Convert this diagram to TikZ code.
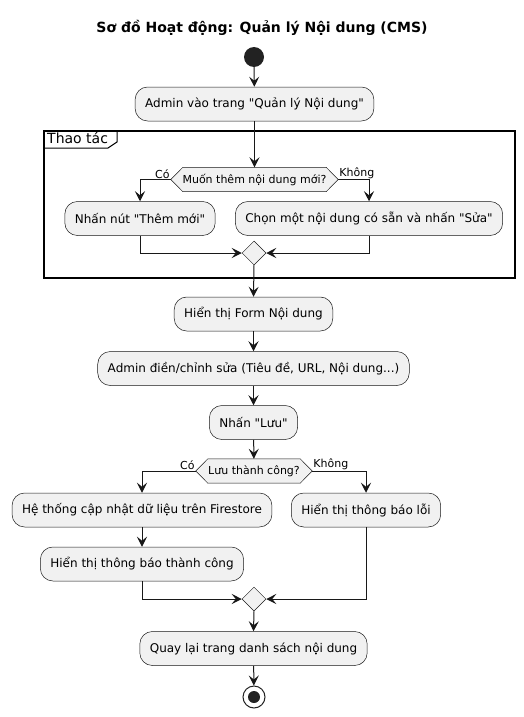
\documentclass[tikz,border=0pt]{standalone}
\usepackage{fontspec}
\setmainfont{DejaVu Sans}[Ligatures=TeXOff]
\usetikzlibrary{arrows.meta,shapes.geometric,backgrounds}
\definecolor{boxfill}{HTML}{F1F1F1}
\definecolor{ln}{HTML}{181818}
\definecolor{dot}{HTML}{222222}
\begin{document}
\begin{tikzpicture}[x=1pt,y=-1pt,
  act/.style={draw=ln, line width=0.5pt, fill=boxfill, rounded corners=12.5pt,
    minimum height=34pt, inner xsep=10pt, inner ysep=0pt,
    font=\fontsize{12}{14}\selectfont, text=black},
  hexa/.style={minimum height=24pt, inner sep=0pt, font=\fontsize{11}{13}\selectfont, text=black},
  merge/.style={diamond, draw=ln, fill=boxfill, line width=0.5pt, minimum width=24pt,
    minimum height=24pt, inner sep=0pt},
  arr/.style={draw=ln, line width=1pt, -{Stealth[length=10pt,width=10pt,inset=4pt]}},
  lbl/.style={font=\fontsize{11}{13}\selectfont, inner sep=1pt, text=black},
]
\useasboundingbox (0,0) rectangle (524,717);

\node[font=\bfseries\fontsize{14}{16}\selectfont] (title) at (262,28) {Sơ đồ Hoạt động: Quản lý Nội dung (CMS)};

\node[circle, fill=dot, minimum size=20pt, inner sep=0pt] (start) at (254,57) {};
\node[act] (a1) at (254.5,104) {Admin vào trang "Quản lý Nội dung"};

% frame
\draw[line width=1.5pt, draw=black] (44,131) rectangle (515,278);
\draw[line width=1pt, draw=black] (44,148) -- (108,148) -- (117,142) -- (117,131);
\node[anchor=north west, font=\fontsize{14}{16}\selectfont, inner sep=0pt] (ft) at (47,132) {Thao tác};

\node[hexa, minimum width=167pt] (d1) at (254.5,179.5) {Muốn thêm nội dung mới?};
\node[act] (b1) at (140,218.5) {Nhấn nút "Thêm mới"};
\node[act] (b2) at (369,218.5) {Chọn một nội dung có sẵn và nhấn "Sửa"};
\node[merge] (m1) at (254,253) {};

\node[act] (f1) at (253.5,314) {Hiển thị Form Nội dung};
\node[act] (f2) at (253.5,368.5) {Admin điền/chỉnh sửa (Tiêu đề, URL, Nội dung...)};
\node[act] (f3) at (253.5,422.5) {Nhấn "Lưu"};

\node[hexa, minimum width=116pt] (d2) at (254,471) {Lưu thành công?};
\node[act] (s1) at (142,510) {Hệ thống cập nhật dữ liệu trên Firestore};
\node[act] (s2) at (142,564) {Hiển thị thông báo thành công};
\node[act] (e1) at (366,510) {Hiển thị thông báo lỗi};
\node[merge] (m2) at (254,599) {};
\node[act] (q1) at (253.5,648.5) {Quay lại trang danh sách nội dung};

\node[circle, draw=dot, line width=1pt, fill=white, minimum size=22pt, inner sep=0pt] (end) at (254,697) {};
\node[circle, fill=dot, minimum size=12pt, inner sep=0pt] (endin) at (end) {};

\begin{scope}[on background layer]
\fill[white] (0,0) rectangle (524,717);
\foreach \d in {d1,d2}{
  \draw[draw=ln, fill=boxfill, line width=0.5pt] (\d.west) -- ([xshift=12pt]\d.north west)
    -- ([xshift=-12pt]\d.north east) -- (\d.east) -- ([xshift=-12pt]\d.south east)
    -- ([xshift=12pt]\d.south west) -- cycle;
}
\end{scope}

% connectors
\draw[arr] (start) -- (a1);
\draw[arr] (a1) -- (d1);
\draw[arr] (d1.west) -| (b1.north);
\draw[arr] (d1.east) -| (b2.north);
\node[lbl, anchor=south east] (c1) at (d1.west) {Có};
\node[lbl, anchor=south west] (k1) at (d1.east) {Không};
\draw[arr] (b1.south) |- (m1.west);
\draw[arr] (b2.south) |- (m1.east);
\draw[arr] (m1.south) -- (f1.north);
\draw[arr] (f1) -- (f2);
\draw[arr] (f2) -- (f3);
\draw[arr] (f3) -- (d2);
\draw[arr] (d2.west) -| (s1.north);
\draw[arr] (d2.east) -| (e1.north);
\node[lbl, anchor=south east] (c2) at (d2.west) {Có};
\node[lbl, anchor=south west] (k2) at (d2.east) {Không};
\draw[arr] (s1) -- (s2);
\draw[arr] (s2.south) |- (m2.west);
\draw[arr] (e1.south) |- (m2.east);
\draw[arr] (m2.south) -- (q1.north);
\draw[arr] (q1) -- (end);
\end{tikzpicture}
\end{document}
